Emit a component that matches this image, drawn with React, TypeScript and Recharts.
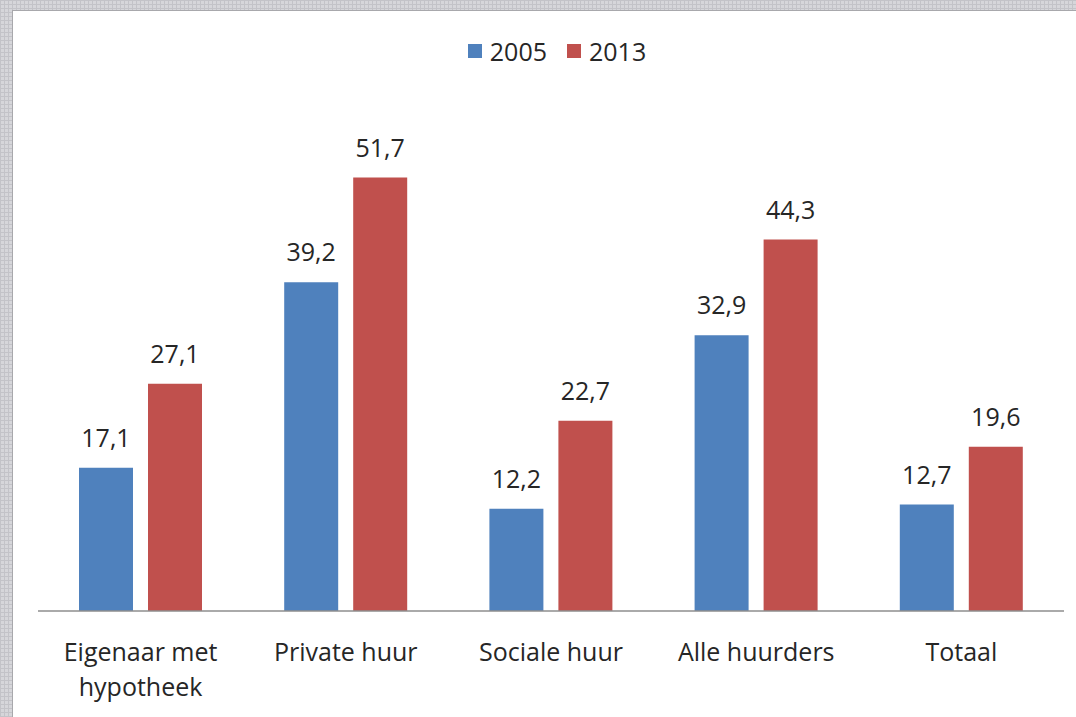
import React from 'react';
import { BarChart, Bar, XAxis, YAxis, Legend, LabelList } from 'recharts';

const categories = ['Eigenaar met\nhypotheek', 'Private huur', 'Sociale huur', 'Alle huurders', 'Totaal'];
const values2005 = [17.1, 39.2, 12.2, 32.9, 12.7];
const values2013 = [27.1, 51.7, 22.7, 44.3, 19.6];
const seriesNames = ['2005', '2013'];
const COLORS = ['#4F81BD', '#C0504D'];

const data = categories.map((name, i) => ({ name, y2005: values2005[i], y2013: values2013[i] }));

const FONT = '"Open Sans", sans-serif';
const TEXT = '#262626';

const fmt = (v: any) => String(v).replace('.', ',');

const CategoryTick = (props: any) => {
  const { x, y, payload } = props;
  const lines = String(payload.value).split('\n');
  return (
    <text x={x} y={y + 48} textAnchor="middle" fill={TEXT} fontSize={25} fontFamily={FONT}>
      {lines.map((l, i) => (
        <tspan key={i} x={x} dy={i === 0 ? 0 : 35}>
          {l}
        </tspan>
      ))}
    </text>
  );
};

const LegendContent = () => (
  <div style={{ display: 'flex', justifyContent: 'center', alignItems: 'center', fontFamily: FONT, fontSize: 25, color: TEXT }}>
    {seriesNames.map((s, i) => (
      <div key={s} style={{ display: 'flex', alignItems: 'center', marginRight: i === 0 ? 20 : 0 }}>
        <span style={{ display: 'inline-block', width: 14, height: 14, background: COLORS[i], marginRight: 8 }} />
        <span>{s}</span>
      </div>
    ))}
  </div>
);

export default function App() {
  return (
    <div
      style={{
        position: 'absolute',
        left: 0,
        top: 0,
        width: 1076,
        height: 717,
        backgroundColor: '#d6d6da',
        backgroundImage:
          'repeating-linear-gradient(0deg, #c3c3c8 0px, #c3c3c8 1px, transparent 1px, transparent 4px), repeating-linear-gradient(90deg, #c3c3c8 0px, #c3c3c8 1px, transparent 1px, transparent 4px)',
        overflow: 'hidden',
      }}
    >
      <div
        style={{
          position: 'absolute',
          left: 12,
          top: 10,
          width: 1064,
          height: 707,
          background: '#ffffff',
          borderLeft: '1px solid #a8a8ac',
          borderTop: '1px solid #a8a8ac',
          boxSizing: 'border-box',
        }}
      >
        <BarChart
          width={1064}
          height={707}
          data={data}
          margin={{ top: 97, right: 13, bottom: 17, left: 25 }}
          barGap={15}
          barSize={54}
        >
          <XAxis
            dataKey="name"
            height={90}
            interval={0}
            tickLine={false}
            tickSize={0}
            axisLine={{ stroke: '#8e8e8e', strokeWidth: 1.5 }}
            tick={<CategoryTick />}
          />
          <YAxis hide domain={[0, 60]} />
          <Legend
            verticalAlign="middle"
            align="center"
            layout="horizontal"
            content={<LegendContent />}
            wrapperStyle={{ top: 23, left: 24, width: 1040 }}
          />
          <Bar dataKey="y2005" name={seriesNames[0]} fill={COLORS[0]} isAnimationActive={false}>
            <LabelList dataKey="y2005" position="top" offset={21} formatter={fmt} fill={TEXT} fontSize={25} fontFamily={FONT} />
          </Bar>
          <Bar dataKey="y2013" name={seriesNames[1]} fill={COLORS[1]} isAnimationActive={false}>
            <LabelList dataKey="y2013" position="top" offset={21} formatter={fmt} fill={TEXT} fontSize={25} fontFamily={FONT} />
          </Bar>
        </BarChart>
      </div>
    </div>
  );
}
